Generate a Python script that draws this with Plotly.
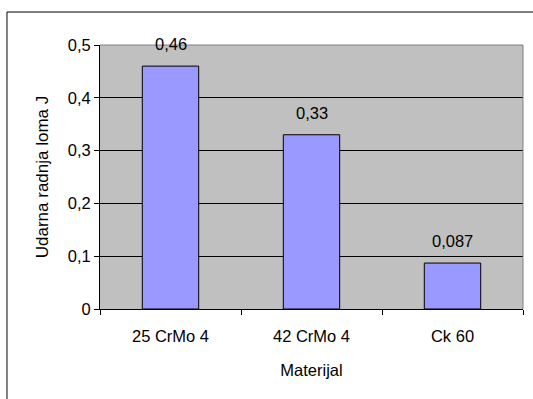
import plotly.graph_objects as go

categories = ["25 CrMo 4", "42 CrMo 4", "Ck 60"]
values = [0.46, 0.33, 0.087]
value_labels = ["0,46", "0,33", "0,087"]
y_ticks = [0, 0.1, 0.2, 0.3, 0.4, 0.5]
y_tick_labels = ["0", "0,1", "0,2", "0,3", "0,4", "0,5"]

FONT = "Liberation Sans, Arial, sans-serif"
FS = 16.5

fig = go.Figure()
fig.add_trace(go.Bar(
    x=categories, y=values, width=0.4,
    marker=dict(color="#9999FF", line=dict(color="black", width=1)),
    hoverinfo="skip",
))

for c, v, t in zip(categories, values, value_labels):
    fig.add_annotation(x=c, y=v, text=t, showarrow=False, yanchor="bottom",
                       yshift=11, font=dict(family=FONT, size=FS, color="black"))

# plot area top/right border (gray)
fig.add_shape(type="line", xref="paper", yref="paper", x0=0, x1=1, y0=1, y1=1,
              line=dict(color="#808080", width=1), layer="above")
fig.add_shape(type="line", xref="paper", yref="paper", x0=1, x1=1, y0=0, y1=1,
              line=dict(color="#808080", width=1), layer="above")
# outer chart border
fig.add_shape(type="rect", xref="paper", yref="paper", x0=-0.2199, x1=1.2, y0=-0.5, y1=1.1249,
              line=dict(color="black", width=1), layer="below")

fig.update_layout(
    width=533, height=399,
    margin=dict(l=100, r=10, t=45, b=90, autoexpand=False),
    paper_bgcolor="white", plot_bgcolor="#C0C0C0",
    showlegend=False,
    font=dict(family=FONT, size=FS, color="black"),
    bargap=0.6,
)
fig.update_xaxes(
    type="category", showline=True, linecolor="black", linewidth=1,
    ticks="outside", ticklen=5, tickcolor="black", tickson="boundaries",
    showgrid=False, tickfont=dict(size=FS), ticklabelstandoff=12, automargin=False,
    title=dict(text="Materijal", font=dict(size=FS), standoff=20),
)
fig.update_yaxes(
    range=[0, 0.5], tickvals=y_ticks, ticktext=y_tick_labels,
    showline=True, linecolor="black", linewidth=1,
    ticks="outside", ticklen=5, tickcolor="black",
    showgrid=True, gridcolor="black", gridwidth=1, zeroline=False,
    tickfont=dict(size=FS), automargin=False,
    title=dict(text="Udarna radnja loma J", font=dict(size=17), standoff=14),
)

fig.write_html("out.html", config={"displayModeBar": False},
               post_script="document.body.style.margin='0';")
